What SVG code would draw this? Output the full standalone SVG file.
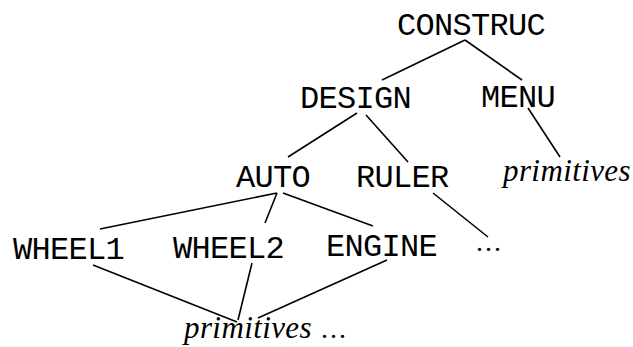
<svg xmlns="http://www.w3.org/2000/svg" width="633" height="347" viewBox="0 0 633 347">
  <style>
    .node { font-family: "Liberation Mono", "Courier New", monospace; font-size: 32px; letter-spacing: -0.7px; fill: #000; }
    .prim { font-family: "Liberation Serif", "Times New Roman", serif; font-style: italic; font-size: 31px; letter-spacing: 0.4px; fill: #000; }
    .dots { font-family: "Liberation Serif", "Times New Roman", serif; font-size: 28px; letter-spacing: 2px; fill: #000; }
    .edge { stroke: #000; stroke-width: 1.6; fill: none; }
  </style>
  <rect width="633" height="347" fill="#fff"/>

  <g id="connectors">
    <line class="edge" x1="465" y1="40" x2="382" y2="80"/>
    <line class="edge" x1="465" y1="40" x2="522" y2="80"/>
    <line class="edge" x1="357" y1="113" x2="288" y2="157"/>
    <line class="edge" x1="366" y1="115" x2="408" y2="162"/>
    <line class="edge" x1="528" y1="108" x2="560" y2="157"/>
    <line class="edge" x1="277" y1="193" x2="100" y2="229"/>
    <line class="edge" x1="277" y1="193" x2="265" y2="223"/>
    <line class="edge" x1="283" y1="193" x2="373" y2="226"/>
    <line class="edge" x1="433" y1="193" x2="488" y2="237"/>
    <line class="edge" x1="93" y1="265" x2="237" y2="322"/>
    <line class="edge" x1="252" y1="263" x2="238" y2="320"/>
    <line class="edge" x1="387" y1="260" x2="258" y2="318"/>
  </g>

  <g id="construc"><text class="node" x="397" y="35">CONSTRUC</text></g>
  <g id="design"><text class="node" x="300" y="108">DESIGN</text></g>
  <g id="menu"><text class="node" x="481" y="107">MENU</text></g>
  <g id="auto"><text class="node" x="236" y="187">AUTO</text></g>
  <g id="ruler"><text class="node" x="356" y="187">RULER</text></g>
  <g id="primitives-menu"><text class="prim" x="503" y="181">primitives</text></g>
  <g id="wheel1"><text class="node" x="13" y="259">WHEEL1</text></g>
  <g id="wheel2"><text class="node" x="173" y="258">WHEEL2</text></g>
  <g id="engine"><text class="node" x="326" y="256">ENGINE</text></g>
  <g id="ruler-more"><text class="dots" x="476" y="251">...</text></g>
  <g id="primitives-bottom">
    <text class="prim" x="184" y="338">primitives</text>
    <text class="dots" x="321" y="338">...</text>
  </g>
</svg>
